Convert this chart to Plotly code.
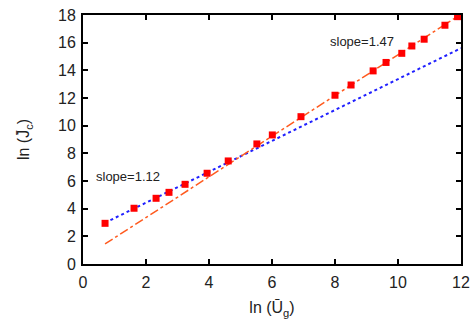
import plotly.graph_objects as go

# data points
ln_ug = [0.70, 1.62, 2.32, 2.73, 3.24, 3.94, 4.61, 5.52, 6.01, 6.92, 8.00,
         8.51, 9.21, 9.62, 10.12, 10.44, 10.83, 11.49, 11.89]
ln_jc = [2.94, 4.03, 4.75, 5.18, 5.76, 6.56, 7.45, 8.68, 9.33, 10.65, 12.20,
         12.94, 13.96, 14.57, 15.23, 15.76, 16.25, 17.26, 17.88]

# fit lines (endpoints)
fit_x = [0.70, 12.0]
fit_low_y = [2.98, 15.60]   # slope 1.12
fit_high_y = [1.45, 18.06]  # slope 1.47

x_ticks = [0, 2, 4, 6, 8, 10, 12]
y_ticks = [0, 2, 4, 6, 8, 10, 12, 14, 16, 18]

font_family = "Liberation Sans, Arial, sans-serif"

fig = go.Figure()
fig.add_trace(go.Scatter(x=fit_x, y=fit_low_y, mode="lines",
                         line=dict(color="#2020ff", width=2, dash="dot"),
                         showlegend=False))
fig.add_trace(go.Scatter(x=fit_x, y=fit_high_y, mode="lines",
                         line=dict(color="#ff5a1e", width=1.5, dash="dashdot"),
                         showlegend=False))
fig.add_trace(go.Scatter(x=ln_ug, y=ln_jc, mode="markers",
                         marker=dict(symbol="square", size=7, color="#ff0000",
                                     line=dict(width=0)),
                         showlegend=False, cliponaxis=False))

fig.add_annotation(x=1.42, y=6.36, text="slope=1.12", showarrow=False,
                   font=dict(size=13, color="#222", family=font_family))
fig.add_annotation(x=8.85, y=16.12, text="slope=1.47", showarrow=False,
                   font=dict(size=13, color="#222", family=font_family))

axis_common = dict(showgrid=False, zeroline=False, showline=True, mirror="ticks",
                   linecolor="black", linewidth=2, ticks="inside", ticklen=5,
                   tickwidth=1.5, tickcolor="black", automargin=False,
                   tickfont=dict(size=16, color="#222", family=font_family))

fig.update_xaxes(range=[0, 12], tickvals=x_ticks, ticklabelstandoff=3,
                 title=dict(text="ln (Ū<sub>g</sub>)", standoff=12,
                            font=dict(size=16, color="#222", family=font_family)),
                 **axis_common)
fig.update_yaxes(range=[0, 18], tickvals=y_ticks, ticklabelstandoff=2,
                 title=dict(text="ln (J\u0304<sub>c</sub>)", standoff=24,
                            font=dict(size=16, color="#222", family=font_family)),
                 **axis_common)

fig.update_layout(width=476, height=322, margin=dict(l=83, r=15, t=15, b=58),
                  plot_bgcolor="white", paper_bgcolor="white")

fig.write_html("out.html", config={"displayModeBar": False},
               post_script="document.body.style.margin='0';document.body.style.overflow='hidden';")
